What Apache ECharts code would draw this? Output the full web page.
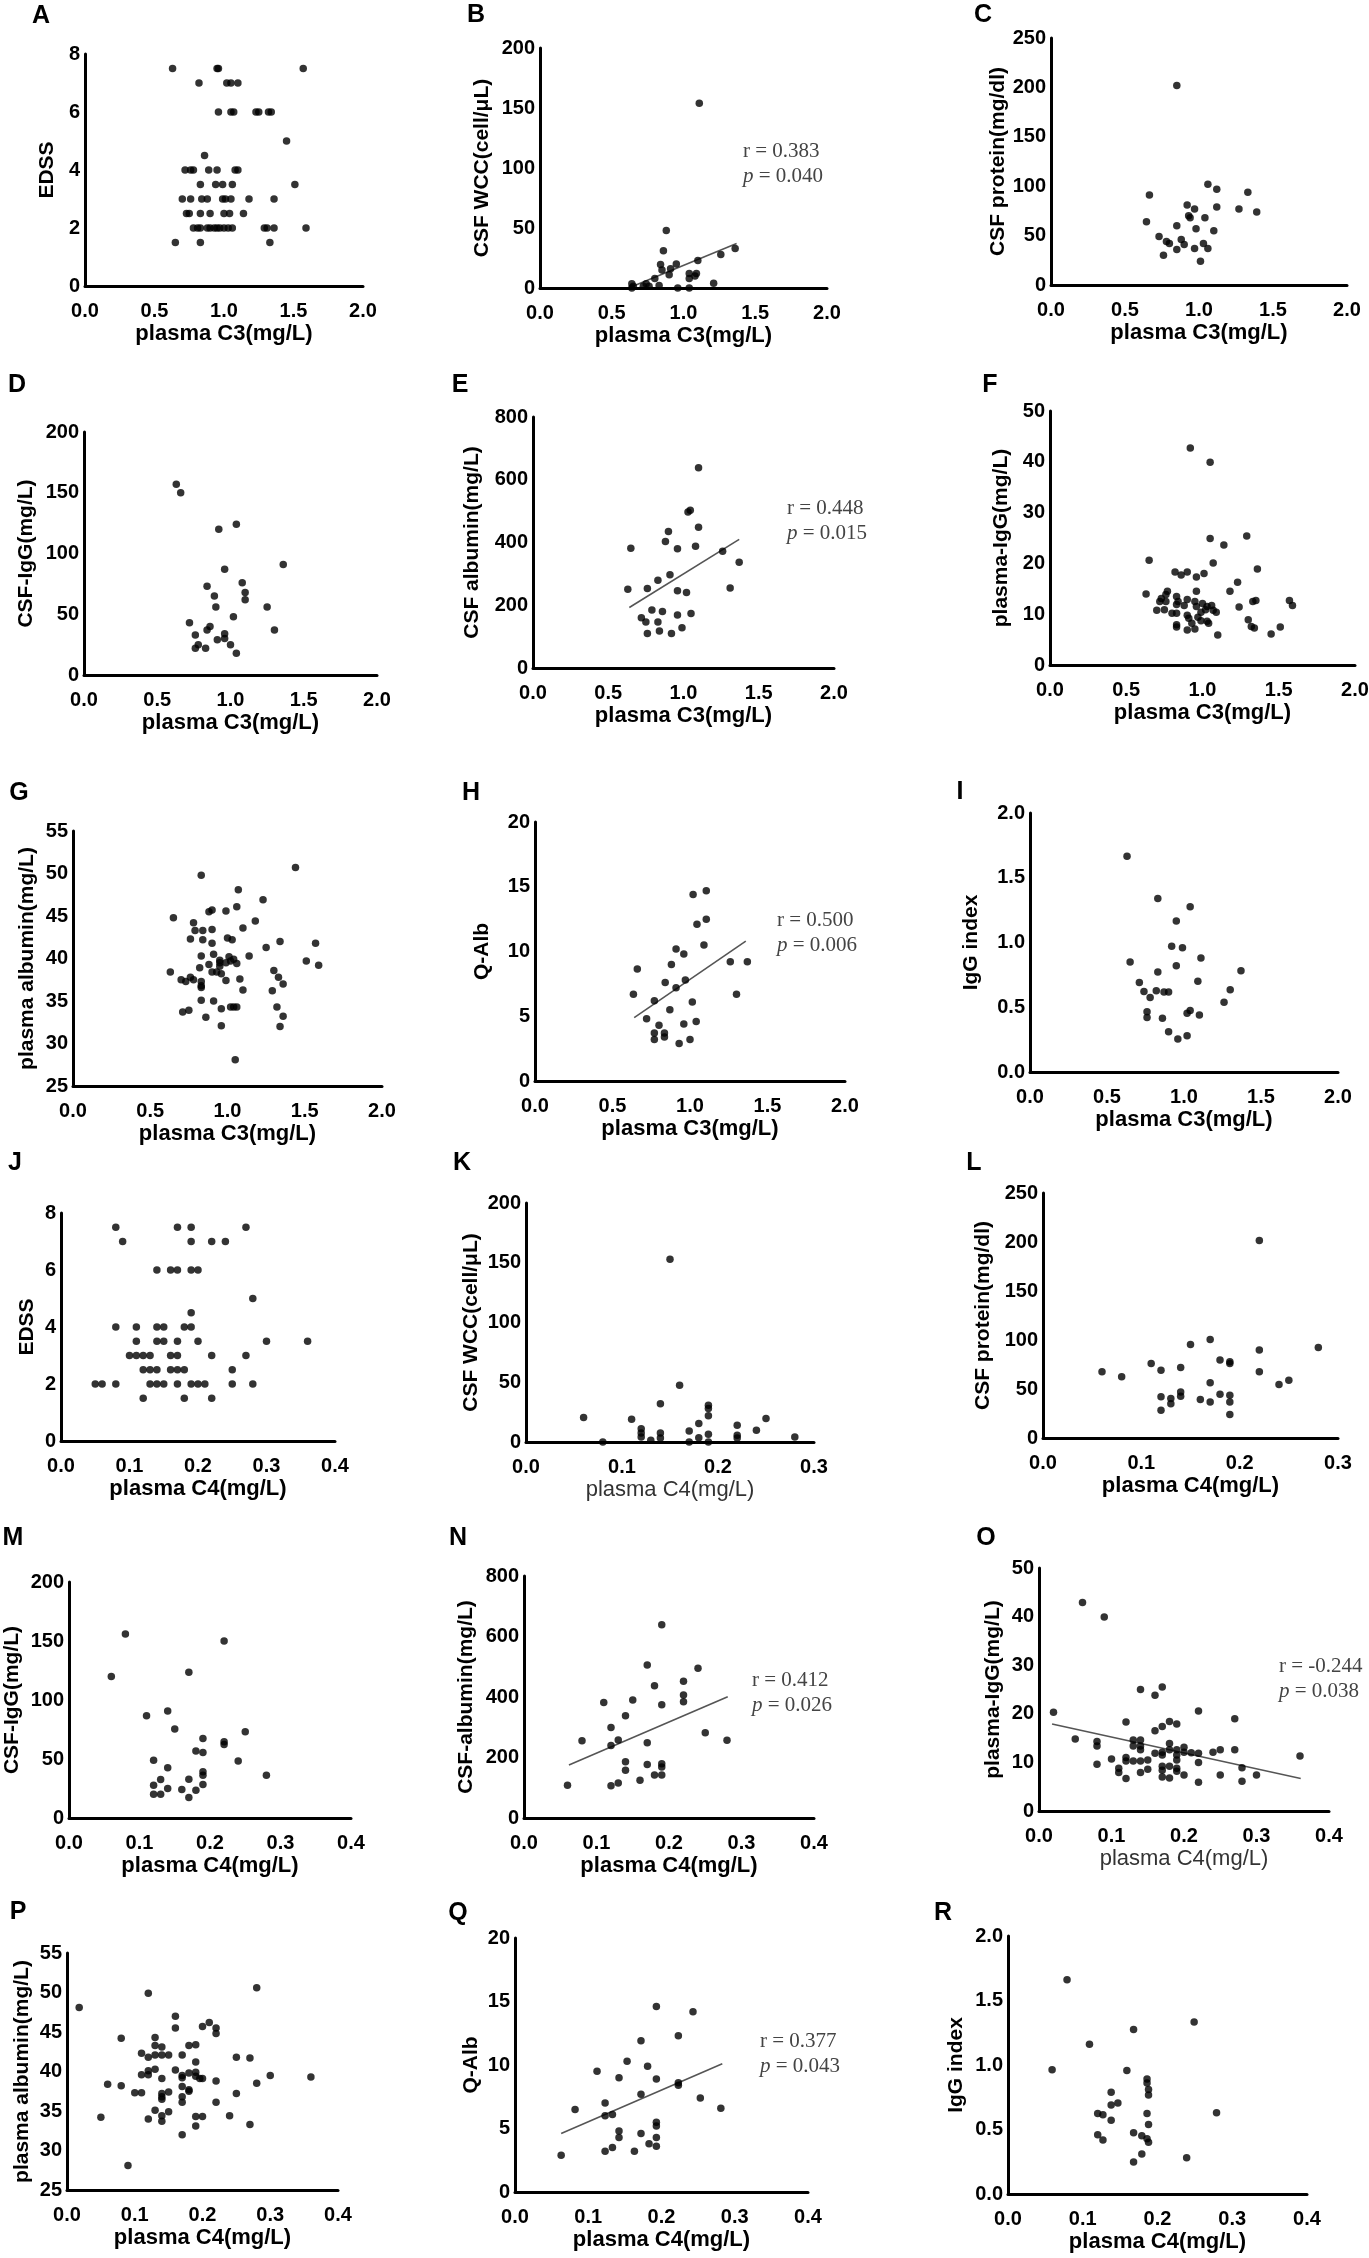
<!DOCTYPE html>
<html>
<head>
<meta charset="utf-8">
<title>Plasma C3 / C4 correlations</title>
<script src="https://cdn.jsdelivr.net/npm/echarts@6.0.0/dist/echarts.min.js"></script>
<style>
  html, body { margin: 0; padding: 0; background: #fff; }
  #chart { width: 1369px; height: 2258px; }
</style>
</head>
<body>
<div id="chart"></div>
<script>
// ---- values: [plasma C3 or C4, outcome] ----
const edssC3 = [
  [0.63, 7.5], [0.95, 7.5], [0.96, 7.5], [1.57, 7.5],
  [0.82, 7], [1.02, 7], [1.05, 7], [1.10, 7],
  [0.96, 6], [1.05, 6], [1.07, 6], [1.23, 6], [1.25, 6], [1.32, 6], [1.34, 6],
  [1.45, 5], [0.86, 4.5],
  [0.72, 4], [0.76, 4], [0.78, 4], [0.89, 4], [0.95, 4], [1.08, 4], [1.10, 4],
  [0.83, 3.5], [0.94, 3.5], [0.99, 3.5], [1.06, 3.5], [1.51, 3.5],
  [0.70, 3], [0.76, 3], [0.84, 3], [0.88, 3], [0.99, 3], [1.01, 3], [1.05, 3], [1.18, 3], [1.36, 3],
  [0.73, 2.5], [0.75, 2.5], [0.83, 2.5], [0.90, 2.5], [1.00, 2.5], [1.04, 2.5], [1.14, 2.5],
  [0.78, 2], [0.81, 2], [0.83, 2], [0.88, 2], [0.90, 2], [0.93, 2], [0.95, 2], [0.97, 2],
  [1.00, 2], [1.03, 2], [1.06, 2], [1.29, 2], [1.31, 2], [1.36, 2], [1.59, 2],
  [0.65, 1.5], [0.83, 1.5], [1.33, 1.5]
];
const wccC3 = [
  [1.11, 154], [0.88, 48], [0.86, 31], [0.84, 19.5], [0.95, 20], [0.91, 16], [0.85, 15],
  [0.80, 8], [0.90, 11], [1.10, 23], [1.26, 28], [1.36, 33], [1.21, 4], [1.08, 10],
  [1.04, 8], [1.04, 12], [1.09, 12], [0.64, 3.5], [0.65, 1.5], [0.74, 3.5], [0.76, 1.5],
  [0.72, 1.5], [0.83, 2], [0.96, 0], [1.04, 0], [0.64, 0]
];
const proteinC3 = [
  [0.85, 202], [0.665, 91], [0.645, 64], [1.06, 102], [1.12, 97], [1.12, 79], [1.33, 94],
  [1.27, 77], [1.39, 74], [0.92, 81], [0.97, 77], [0.93, 70], [0.94, 68], [1.04, 68],
  [0.98, 57], [1.10, 55], [0.85, 60], [0.73, 49], [0.78, 44], [0.80, 42], [0.88, 46],
  [0.90, 41], [0.85, 36], [0.97, 37], [1.03, 42], [1.06, 37], [0.76, 30], [1.01, 24]
];
const csfIggC3 = [
  [0.63, 157], [0.66, 150], [1.04, 124], [0.92, 120], [1.36, 91], [0.96, 87], [1.08, 76],
  [0.84, 73], [1.10, 68], [1.10, 62], [0.89, 65], [0.90, 56], [1.25, 56], [1.02, 48],
  [0.72, 43], [1.30, 37], [0.86, 40], [0.84, 37], [0.76, 33], [0.96, 34], [0.96, 30],
  [0.91, 29], [0.78, 25], [0.76, 22], [0.83, 22], [1.00, 25], [1.04, 18]
];
const csfAlbC3 = [
  [1.10, 638], [1.03, 497], [1.045, 503], [1.10, 449], [0.90, 435], [0.88, 403], [0.96, 380],
  [1.08, 388], [0.65, 382], [1.26, 372], [1.37, 337], [0.91, 297], [0.83, 280], [0.63, 251],
  [0.76, 253], [0.96, 246], [1.02, 241], [1.31, 255], [0.79, 185], [0.86, 180], [0.96, 169],
  [1.05, 174], [0.72, 160], [0.75, 147], [0.83, 147], [0.76, 110], [0.84, 118], [0.92, 110],
  [0.99, 128]
];
const plasmaIggC3 = [
  [0.92, 42.7], [1.05, 39.9], [1.29, 25.4], [1.05, 24.9], [1.14, 23.6], [0.65, 20.6],
  [1.07, 20.1], [1.36, 18.9], [0.82, 18.3], [0.86, 17.7], [0.90, 18.3], [1.01, 18.0],
  [0.96, 17.3], [1.23, 16.3], [0.63, 14.0], [1.18, 14.5], [0.96, 14.5], [0.77, 14.5],
  [0.76, 13.9], [0.73, 13.1], [0.72, 12.5], [0.76, 12.5], [0.83, 13.5], [0.84, 12.5],
  [0.90, 12.9], [0.95, 12.5], [0.88, 11.7], [0.83, 11.9], [0.96, 11.5], [1.00, 12.1],
  [1.03, 11.5], [1.06, 11.7], [1.02, 10.9], [1.07, 10.8], [1.09, 10.4], [1.24, 11.4],
  [1.33, 12.5], [1.35, 12.7], [1.57, 12.7], [1.59, 11.7], [0.70, 10.8], [0.75, 10.9],
  [0.80, 10.2], [0.83, 10.2], [0.90, 9.8], [0.91, 9.2], [0.97, 9.4], [0.99, 10.4],
  [0.99, 8.7], [1.03, 8.6], [1.04, 8.2], [0.83, 7.9], [0.83, 7.5], [0.93, 8.2],
  [0.95, 7.1], [0.90, 6.9], [1.30, 8.9], [1.32, 7.6], [1.34, 7.3], [1.51, 7.5],
  [1.45, 6.1], [1.10, 5.9]
];
const plasmaAlbC3 = [
  [1.44, 50.7], [0.83, 49.8], [1.07, 48.1], [1.23, 46.9], [1.06, 46.1], [0.88, 45.5],
  [0.90, 45.7], [0.99, 45.6], [0.65, 44.8], [0.78, 44.2], [1.18, 44.4], [0.79, 43.3],
  [0.84, 43.3], [0.90, 43.4], [1.10, 43.6], [0.76, 42.3], [0.84, 42.2], [1.00, 42.4],
  [1.03, 42.2], [0.90, 41.8], [1.34, 42.0], [1.57, 41.8], [1.25, 41.3], [0.83, 40.3],
  [0.91, 40.5], [1.14, 40.3], [1.01, 40.2], [1.04, 39.9], [1.02, 39.7], [0.95, 39.8],
  [0.95, 39.5], [0.99, 39.5], [1.06, 39.4], [0.88, 39.3], [0.95, 39.1], [1.51, 39.7],
  [1.59, 39.2], [0.82, 38.9], [0.63, 38.4], [0.90, 38.4], [0.93, 38.4], [0.96, 38.2],
  [1.30, 38.6], [1.33, 37.8], [0.70, 37.5], [0.73, 37.3], [0.76, 37.8], [0.78, 37.5],
  [0.83, 37.3], [0.83, 36.8], [0.83, 36.6], [0.99, 37.4], [1.08, 37.6], [1.36, 37.0],
  [1.10, 36.3], [1.29, 36.2], [0.83, 35.1], [0.91, 35.0], [0.71, 33.7], [0.75, 33.9],
  [0.96, 34.1], [1.02, 34.3], [1.04, 34.3], [1.06, 34.3], [1.32, 34.3], [0.86, 33.1],
  [1.36, 33.2], [0.96, 32.1], [1.34, 32.0], [1.05, 28.1]
];
const qalbC3 = [
  [1.105, 14.7], [1.02, 14.4], [1.105, 12.5], [1.045, 12.1], [1.09, 10.5], [0.91, 10.2],
  [0.96, 9.8], [1.26, 9.2], [1.37, 9.2], [0.88, 9.0], [0.66, 8.65], [0.84, 7.6],
  [0.97, 7.8], [0.91, 7.2], [0.635, 6.7], [1.30, 6.7], [0.77, 6.2], [1.015, 6.1],
  [0.87, 5.5], [0.72, 4.8], [0.80, 4.3], [1.04, 4.6], [0.96, 4.4], [0.77, 3.7],
  [0.835, 3.7], [0.835, 3.4], [0.77, 3.2], [1.00, 3.2], [0.93, 2.9]
];
const iggIndexC3 = [
  [0.63, 1.666], [0.83, 1.339], [1.04, 1.277], [0.95, 1.166], [0.92, 0.972], [0.99, 0.959],
  [0.65, 0.85], [1.11, 0.881], [0.95, 0.821], [0.83, 0.772], [1.37, 0.782], [0.71, 0.692],
  [1.09, 0.70], [0.74, 0.622], [0.82, 0.627], [0.87, 0.617], [0.90, 0.617], [1.30, 0.635],
  [0.78, 0.575], [1.26, 0.539], [0.76, 0.466], [0.76, 0.42], [1.02, 0.453], [1.04, 0.474],
  [1.10, 0.44], [0.86, 0.415], [0.90, 0.311], [1.02, 0.28], [0.96, 0.254]
];

const edssC4 = [
  [0.08, 7.5], [0.17, 7.5], [0.19, 7.5], [0.27, 7.5],
  [0.09, 7], [0.19, 7], [0.22, 7], [0.24, 7],
  [0.14, 6], [0.16, 6], [0.17, 6], [0.19, 6], [0.20, 6],
  [0.28, 5], [0.19, 4.5],
  [0.08, 4], [0.11, 4], [0.14, 4], [0.15, 4], [0.18, 4], [0.19, 4],
  [0.11, 3.5], [0.14, 3.5], [0.15, 3.5], [0.17, 3.5], [0.20, 3.5], [0.30, 3.5], [0.36, 3.5],
  [0.10, 3], [0.11, 3], [0.12, 3], [0.13, 3], [0.16, 3], [0.17, 3], [0.22, 3], [0.27, 3],
  [0.12, 2.5], [0.13, 2.5], [0.14, 2.5], [0.16, 2.5], [0.17, 2.5], [0.18, 2.5], [0.25, 2.5],
  [0.05, 2], [0.06, 2], [0.08, 2], [0.13, 2], [0.14, 2], [0.15, 2], [0.17, 2], [0.19, 2],
  [0.20, 2], [0.21, 2], [0.25, 2], [0.28, 2],
  [0.12, 1.5], [0.18, 1.5], [0.22, 1.5]
];
const wccC4 = [
  [0.15, 153], [0.16, 47.5], [0.14, 32], [0.06, 20.4], [0.11, 19], [0.19, 30.7], [0.19, 28],
  [0.19, 22], [0.18, 15.4], [0.17, 9.2], [0.22, 14], [0.22, 5.6], [0.22, 3.4], [0.24, 9.8],
  [0.25, 19.6], [0.28, 4.2], [0.12, 11], [0.12, 7.5], [0.12, 4.2], [0.14, 7.5], [0.14, 3.4],
  [0.13, 1.4], [0.19, 6.4], [0.18, 3.6], [0.17, 0], [0.08, 0], [0.19, 0]
];
const proteinC4 = [
  [0.22, 201.6], [0.17, 100.6], [0.15, 95.5], [0.28, 92.4], [0.22, 89.7], [0.18, 79.5],
  [0.19, 77.8], [0.19, 76], [0.11, 76], [0.14, 72], [0.12, 69.2], [0.06, 67.5], [0.22, 67.5],
  [0.08, 62.4], [0.25, 59], [0.24, 54.6], [0.17, 56.3], [0.14, 47], [0.14, 42.6], [0.12, 42],
  [0.13, 40.2], [0.13, 35], [0.12, 28.3], [0.16, 39.2], [0.17, 36.8], [0.18, 44.7],
  [0.19, 43.7], [0.19, 36.8], [0.19, 23.9]
];
const csfIggC4 = [
  [0.08, 156], [0.22, 150], [0.06, 120], [0.17, 123.5], [0.11, 86.7], [0.14, 90.7],
  [0.15, 75.4], [0.25, 73.1], [0.19, 67.4], [0.22, 64.6], [0.22, 62.3], [0.18, 56.7],
  [0.19, 55.5], [0.12, 49], [0.24, 48.2], [0.14, 42.5], [0.19, 39.1], [0.19, 36.3],
  [0.28, 36.3], [0.17, 32.9], [0.13, 32.6], [0.12, 27.8], [0.19, 28.3], [0.14, 24.9],
  [0.16, 24.1], [0.18, 23.5], [0.12, 20.1], [0.13, 20.1], [0.17, 17.3]
];
const csfAlbC4 = [
  [0.19, 639], [0.17, 506], [0.24, 495], [0.22, 452], [0.18, 437], [0.22, 407], [0.22, 384],
  [0.19, 374], [0.11, 382], [0.15, 390], [0.14, 338], [0.12, 299], [0.25, 282], [0.08, 255],
  [0.13, 258], [0.17, 249], [0.28, 257], [0.12, 240], [0.14, 186], [0.14, 158], [0.17, 177],
  [0.19, 179], [0.19, 169], [0.18, 142], [0.19, 142], [0.16, 125], [0.13, 116], [0.12, 107],
  [0.06, 108]
];
const plasmaIggC4 = [
  [0.06, 42.9], [0.09, 39.9], [0.17, 25.5], [0.14, 25.0], [0.16, 23.8], [0.22, 20.6],
  [0.02, 20.3], [0.27, 19.0], [0.12, 18.3], [0.18, 18.4], [0.19, 17.9], [0.17, 17.4],
  [0.16, 16.5], [0.05, 14.8], [0.08, 14.3], [0.08, 13.4], [0.13, 14.6], [0.14, 14.6],
  [0.13, 13.4], [0.14, 13.4], [0.14, 12.6], [0.18, 13.9], [0.18, 12.6], [0.20, 13.1],
  [0.19, 12.6], [0.17, 12.1], [0.17, 11.5], [0.16, 11.9], [0.20, 12.1], [0.21, 12.0],
  [0.22, 11.9], [0.24, 12.1], [0.25, 12.6], [0.27, 12.6], [0.19, 11.5], [0.19, 10.5],
  [0.10, 10.7], [0.12, 11.0], [0.12, 10.3], [0.13, 10.3], [0.14, 10.3], [0.15, 10.5],
  [0.22, 10.0], [0.36, 11.3], [0.08, 9.6], [0.17, 9.2], [0.18, 9.2], [0.11, 8.8],
  [0.11, 7.9], [0.15, 8.6], [0.14, 7.9], [0.17, 8.4], [0.17, 7.0], [0.19, 8.8],
  [0.19, 8.2], [0.20, 7.4], [0.25, 7.4], [0.28, 8.9], [0.30, 7.4], [0.12, 6.7],
  [0.18, 6.8], [0.22, 5.9], [0.28, 6.1]
];
const plasmaAlbC4 = [
  [0.28, 50.6], [0.12, 49.9], [0.018, 48.1], [0.16, 47.0], [0.21, 46.2], [0.20, 45.7],
  [0.16, 45.5], [0.22, 45.5], [0.22, 44.8], [0.08, 44.2], [0.13, 44.3], [0.13, 43.3],
  [0.14, 43.1], [0.18, 43.3], [0.19, 43.4], [0.11, 42.3], [0.13, 42.1], [0.14, 42.1],
  [0.15, 42.1], [0.17, 42.1], [0.12, 41.8], [0.25, 41.8], [0.27, 41.7], [0.19, 41.2],
  [0.13, 40.3], [0.16, 40.2], [0.12, 40.1], [0.12, 39.6], [0.11, 39.6], [0.18, 39.8],
  [0.19, 39.9], [0.17, 39.5], [0.17, 39.2], [0.19, 39.4], [0.196, 39.1], [0.20, 39.1],
  [0.14, 39.1], [0.22, 38.8], [0.30, 39.5], [0.36, 39.3], [0.06, 38.4], [0.08, 38.2],
  [0.28, 38.5], [0.17, 38.1], [0.18, 37.7], [0.18, 37.5], [0.10, 37.3], [0.11, 37.3],
  [0.15, 37.4], [0.14, 37.2], [0.14, 36.8], [0.14, 36.5], [0.17, 36.8], [0.17, 36.1],
  [0.25, 37.2], [0.22, 36.1], [0.13, 35.1], [0.15, 34.9], [0.05, 34.2], [0.12, 34.0],
  [0.14, 34.4], [0.14, 33.7], [0.19, 34.3], [0.20, 34.3], [0.24, 34.4], [0.19, 33.1],
  [0.27, 33.3], [0.17, 32.0], [0.09, 28.1]
];
const qalbC4 = [
  [0.193, 14.6], [0.243, 14.2], [0.223, 12.3], [0.172, 11.9], [0.153, 10.3], [0.181, 9.9],
  [0.112, 9.5], [0.142, 9.0], [0.193, 8.9], [0.223, 8.6], [0.223, 8.4], [0.172, 7.7],
  [0.253, 7.4], [0.123, 7.0], [0.281, 6.6], [0.082, 6.5], [0.133, 6.1], [0.123, 6.0],
  [0.193, 5.5], [0.193, 5.2], [0.142, 4.8], [0.142, 4.3], [0.172, 4.6], [0.193, 4.3],
  [0.183, 3.8], [0.193, 3.6], [0.133, 3.5], [0.123, 3.2], [0.163, 3.2], [0.063, 2.9]
];
const iggIndexC4 = [
  [0.079, 1.66], [0.249, 1.333], [0.168, 1.275], [0.109, 1.16], [0.059, 0.964],
  [0.159, 0.958], [0.186, 0.892], [0.186, 0.86], [0.138, 0.788], [0.188, 0.81],
  [0.188, 0.768], [0.147, 0.706], [0.138, 0.69], [0.279, 0.63], [0.12, 0.624],
  [0.127, 0.614], [0.186, 0.624], [0.138, 0.572], [0.188, 0.539], [0.168, 0.474],
  [0.179, 0.451], [0.12, 0.46], [0.127, 0.418], [0.186, 0.428], [0.188, 0.402],
  [0.179, 0.31], [0.239, 0.281], [0.168, 0.248]
];

// fitted lines as drawn in the figure (two end points each)
const fitWccC3 = [[0.66, 2], [1.37, 37]];
const fitCsfAlbC3 = [[0.64, 193], [1.37, 410]];
const fitQalbC3 = [[0.64, 4.9], [1.36, 10.8]];
const fitCsfAlbC4 = [[0.062, 175], [0.281, 401]];
const fitPlasmaIggC4 = [[0.018, 17.9], [0.361, 6.7]];
const fitQalbC4 = [[0.063, 4.6], [0.283, 10.1]];

// [r, p] printed beside the fitted lines
const statWccC3 = ['0.383', '0.040'];
const statCsfAlbC3 = ['0.448', '0.015'];
const statQalbC3 = ['0.500', '0.006'];
const statCsfAlbC4 = ['0.412', '0.026'];
const statPlasmaIggC4 = ['-0.244', '0.038'];
const statQalbC4 = ['0.377', '0.043'];

const C3 = 'plasma C3(mg/L)';
const C4 = 'plasma C4(mg/L)';
const xC3 = [0, 2, 0.5];
const xC4 = [0, 0.4, 0.1];
const xC4short = [0, 0.3, 0.1];

// box = [left, top, width, height] of plot area; pos = [x, y] of panel letter
const panels = [
  { tag: 'A', pos: [41, 16], data: edssC3, x: xC3, y: [0, 8, 2], yName: 'EDSS', xName: C3, box: [85, 54, 278, 232], gap: 27 },
  { tag: 'B', pos: [476, 15], data: wccC3, x: xC3, y: [0, 200, 50], yName: 'CSF WCC(cell/μL)', xName: C3, box: [540, 48, 287, 240], gap: 47,
    fit: fitWccC3, stat: statWccC3, statPos: [743, 151] },
  { tag: 'C', pos: [983, 15], data: proteinC3, x: xC3, y: [0, 250, 50], yName: 'CSF protein(mg/dl)', xName: C3, box: [1051, 38, 296, 247], gap: 40 },
  { tag: 'D', pos: [17, 385], data: csfIggC3, x: xC3, y: [0, 200, 50], yName: 'CSF-IgG(mg/L)', xName: C3, box: [84, 432, 293, 243], gap: 47 },
  { tag: 'E', pos: [460, 385], data: csfAlbC3, x: xC3, y: [0, 800, 200], yName: 'CSF albumin(mg/L)', xName: C3, box: [533, 417, 301, 251], gap: 50,
    fit: fitCsfAlbC3, stat: statCsfAlbC3, statPos: [787, 508] },
  { tag: 'F', pos: [990, 385], data: plasmaIggC3, x: xC3, y: [0, 50, 10], yName: 'plasma-IgG(mg/L)', xName: C3, box: [1050, 411, 305, 254], gap: 38 },
  { tag: 'G', pos: [19, 793], data: plasmaAlbC3, x: xC3, y: [25, 55, 5], yName: 'plasma albumin(mg/L)', xName: C3, box: [73, 831, 309, 255], gap: 35 },
  { tag: 'H', pos: [471, 793], data: qalbC3, x: xC3, y: [0, 20, 5], yName: 'Q-Alb', xName: C3, box: [535, 822, 310, 259], gap: 42,
    fit: fitQalbC3, stat: statQalbC3, statPos: [777, 920] },
  { tag: 'I', pos: [960, 792], data: iggIndexC3, x: xC3, y: [0, 2, 0.5], yName: 'IgG index', xName: C3, box: [1030, 813, 308, 259], gap: 48 },
  { tag: 'J', pos: [15, 1163], data: edssC4, x: xC4, y: [0, 8, 2], yName: 'EDSS', xName: C4, box: [61, 1213, 274, 228], gap: 23 },
  { tag: 'K', pos: [462, 1163], data: wccC4, x: xC4short, y: [0, 200, 50], yName: 'CSF WCC(cell/μL)', xName: C4, box: [526, 1203, 288, 239], gap: 44, thinName: true },
  { tag: 'L', pos: [974, 1163], data: proteinC4, x: xC4short, y: [0, 250, 50], yName: 'CSF protein(mg/dl)', xName: C4, box: [1043, 1193, 295, 245], gap: 49 },
  { tag: 'M', pos: [13, 1538], data: csfIggC4, x: xC4, y: [0, 200, 50], yName: 'CSF-IgG(mg/L)', xName: C4, box: [69, 1582, 282, 236], gap: 46 },
  { tag: 'N', pos: [458, 1538], data: csfAlbC4, x: xC4, y: [0, 800, 200], yName: 'CSF-albumin(mg/L)', xName: C4, box: [524, 1576, 290, 242], gap: 47,
    fit: fitCsfAlbC4, stat: statCsfAlbC4, statPos: [752, 1680] },
  { tag: 'O', pos: [986, 1538], data: plasmaIggC4, x: xC4, y: [0, 50, 10], yName: 'plasma-IgG(mg/L)', xName: C4, box: [1039, 1568, 290, 243], gap: 35, thinName: true,
    fit: fitPlasmaIggC4, stat: statPlasmaIggC4, statPos: [1279, 1666] },
  { tag: 'P', pos: [18, 1912], data: plasmaAlbC4, x: xC4, y: [25, 55, 5], yName: 'plasma albumin(mg/L)', xName: C4, box: [67, 1953, 271, 237], gap: 34 },
  { tag: 'Q', pos: [458, 1913], data: qalbC4, x: xC4, y: [0, 20, 5], yName: 'Q-Alb', xName: C4, box: [515, 1938, 293, 254], gap: 33,
    fit: fitQalbC4, stat: statQalbC4, statPos: [760, 2041] },
  { tag: 'R', pos: [943, 1913], data: iggIndexC4, x: xC4, y: [0, 2, 0.5], yName: 'IgG index', xName: C4, box: [1008, 1936, 299, 258], gap: 41 }
];

const SANS = '"Liberation Sans", Arial, Helvetica, sans-serif';
const SERIF = '"Liberation Serif", "Times New Roman", serif';

const oneDecimal = v => v.toFixed(1);
const plain = v => String(Math.round(v));

const axisLine = { show: true, onZero: false, lineStyle: { color: '#000', width: 3 } };
const tickFont = { color: '#000', fontFamily: SANS, fontWeight: 'bold', fontSize: 20 };

const grid = [], xAxis = [], yAxis = [], series = [], graphic = [];

panels.forEach((p, i) => {
  const [left, top, width, height] = p.box;
  grid.push({ left, top, width, height, containLabel: false, outerBoundsMode: 'none' });

  xAxis.push({
    gridIndex: i, type: 'value',
    min: p.x[0], max: p.x[1], interval: p.x[2],
    name: p.xName, nameLocation: 'middle', nameGap: 37,
    nameTextStyle: {
      color: p.thinName ? '#333' : '#000', fontFamily: SANS,
      fontWeight: p.thinName ? 'normal' : 'bold', fontSize: 22
    },
    axisLine, axisTick: { show: false }, splitLine: { show: false },
    axisLabel: Object.assign({ margin: 15, formatter: oneDecimal }, tickFont)
  });

  yAxis.push({
    gridIndex: i, type: 'value',
    min: p.y[0], max: p.y[1], interval: p.y[2],
    name: p.yName, nameLocation: 'middle', nameRotate: 90, nameGap: p.gap,
    nameTextStyle: { color: '#000', fontFamily: SANS, fontWeight: 'bold', fontSize: 21 },
    axisLine, axisTick: { show: false }, splitLine: { show: false },
    axisLabel: Object.assign({ margin: 5, formatter: p.y[2] < 1 ? oneDecimal : plain }, tickFont)
  });

  series.push({
    type: 'scatter', xAxisIndex: i, yAxisIndex: i,
    data: p.data, symbol: 'circle', symbolSize: 7.5,
    itemStyle: { color: '#000' }, z: 3
  });

  if (p.fit) {
    series.push({
      type: 'line', xAxisIndex: i, yAxisIndex: i, data: p.fit,
      symbol: 'none', silent: true, z: 2,
      lineStyle: { color: '#555', width: 1.6 }
    });
  }

  graphic.push({
    type: 'text', x: p.pos[0], y: p.pos[1],
    style: { text: p.tag, fill: '#000', font: 'bold 25px ' + SANS, align: 'center', verticalAlign: 'middle' }
  });

  if (p.stat) {
    const [sx, sy] = p.statPos;
    const statStyle = { fill: '#444', fontFamily: SERIF, fontSize: 21, align: 'left', verticalAlign: 'middle' };
    graphic.push({
      type: 'text', x: sx, y: sy,
      style: Object.assign({ text: 'r = ' + p.stat[0] }, statStyle)
    });
    graphic.push({
      type: 'text', x: sx, y: sy + 25,
      style: Object.assign({
        text: '{i|p} = ' + p.stat[1],
        rich: { i: { fontStyle: 'italic', fontFamily: SERIF, fontSize: 21, fill: '#444' } }
      }, statStyle)
    });
  }
});

const chart = echarts.init(document.getElementById('chart'), null, { renderer: 'canvas' });
chart.setOption({
  animation: false,
  backgroundColor: '#fff',
  grid, xAxis, yAxis, series, graphic
});
</script>
</body>
</html>
